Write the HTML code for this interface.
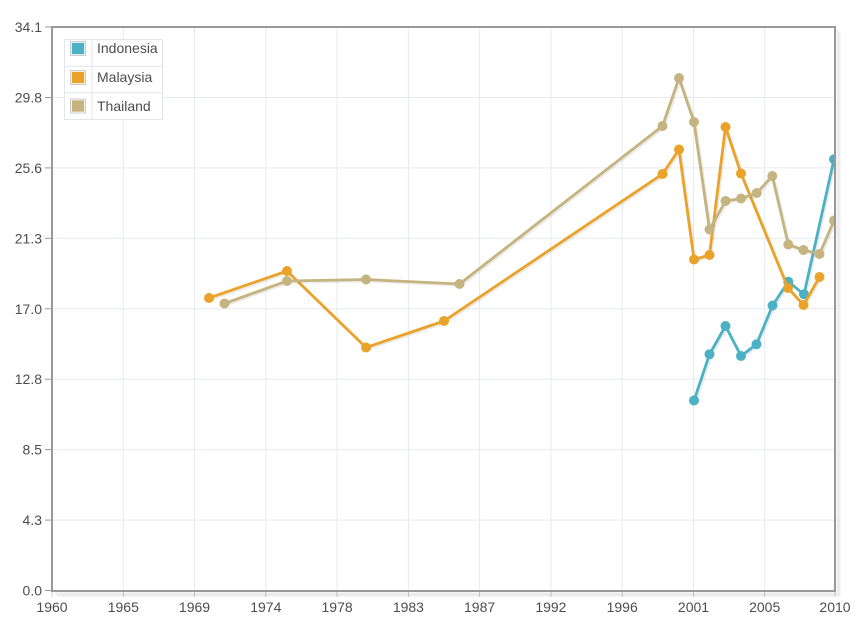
<!DOCTYPE html>
<html><head><meta charset="utf-8"><style>
html,body{margin:0;padding:0;background:#fff;}
svg{display:block;}
text{font-family:"Liberation Sans",sans-serif;font-size:14px;fill:#4d4d4d;}
</style></head><body>
<svg width="857" height="621" viewBox="0 0 857 621" xmlns="http://www.w3.org/2000/svg">
<rect x="0" y="0" width="857" height="621" fill="#fff"/>
<!-- grid -->
<g stroke="#e6eaf0" stroke-width="1">
<line x1="123.3" y1="27" x2="123.3" y2="591"/>
<line x1="194.5" y1="27" x2="194.5" y2="591"/>
<line x1="265.8" y1="27" x2="265.8" y2="591"/>
<line x1="337.1" y1="27" x2="337.1" y2="591"/>
<line x1="408.4" y1="27" x2="408.4" y2="591"/>
<line x1="479.6" y1="27" x2="479.6" y2="591"/>
<line x1="550.9" y1="27" x2="550.9" y2="591"/>
<line x1="622.2" y1="27" x2="622.2" y2="591"/>
<line x1="693.5" y1="27" x2="693.5" y2="591"/>
<line x1="764.7" y1="27" x2="764.7" y2="591"/>
<line x1="52" y1="97.5" x2="835" y2="97.5"/>
<line x1="52" y1="167.9" x2="835" y2="167.9"/>
<line x1="52" y1="238.3" x2="835" y2="238.3"/>
<line x1="52" y1="308.8" x2="835" y2="308.8"/>
<line x1="52" y1="379.2" x2="835" y2="379.2"/>
<line x1="52" y1="449.6" x2="835" y2="449.6"/>
<line x1="52" y1="520.1" x2="835" y2="520.1"/>
</g>
<!-- ticks -->
<g stroke="#999" stroke-width="1">
<line x1="45" y1="27" x2="51" y2="27"/>
<line x1="45" y1="97.5" x2="51" y2="97.5"/>
<line x1="45" y1="167.9" x2="51" y2="167.9"/>
<line x1="45" y1="238.3" x2="51" y2="238.3"/>
<line x1="45" y1="308.8" x2="51" y2="308.8"/>
<line x1="45" y1="379.2" x2="51" y2="379.2"/>
<line x1="45" y1="449.6" x2="51" y2="449.6"/>
<line x1="45" y1="520.1" x2="51" y2="520.1"/>
<line x1="45" y1="590.5" x2="51" y2="590.5"/>
</g>
<g stroke="#ccc" stroke-width="1">
<line x1="52" y1="592" x2="52" y2="597"/>
<line x1="123.3" y1="592" x2="123.3" y2="597"/>
<line x1="194.5" y1="592" x2="194.5" y2="597"/>
<line x1="265.8" y1="592" x2="265.8" y2="597"/>
<line x1="337.1" y1="592" x2="337.1" y2="597"/>
<line x1="408.4" y1="592" x2="408.4" y2="597"/>
<line x1="479.6" y1="592" x2="479.6" y2="597"/>
<line x1="550.9" y1="592" x2="550.9" y2="597"/>
<line x1="622.2" y1="592" x2="622.2" y2="597"/>
<line x1="693.5" y1="592" x2="693.5" y2="597"/>
<line x1="764.7" y1="592" x2="764.7" y2="597"/>
<line x1="835" y1="592" x2="835" y2="597"/>
</g>
<!-- y labels -->
<g text-anchor="end">
<text x="42" y="32">34.1</text>
<text x="42" y="102.5">29.8</text>
<text x="42" y="173">25.6</text>
<text x="42" y="243.3">21.3</text>
<text x="42" y="313.8">17.0</text>
<text x="42" y="384.2">12.8</text>
<text x="42" y="454.6">8.5</text>
<text x="42" y="525.1">4.3</text>
<text x="42" y="595.5">0.0</text>
</g>
<!-- x labels -->
<g text-anchor="middle">
<text x="52" y="612">1960</text>
<text x="123.3" y="612">1965</text>
<text x="194.5" y="612">1969</text>
<text x="265.8" y="612">1974</text>
<text x="337.1" y="612">1978</text>
<text x="408.4" y="612">1983</text>
<text x="479.6" y="612">1987</text>
<text x="550.9" y="612">1992</text>
<text x="622.2" y="612">1996</text>
<text x="693.5" y="612">2001</text>
<text x="764.7" y="612">2005</text>
<text x="835" y="612">2010</text>
</g>
<!-- border shadow -->
<g stroke="#000" fill="none" stroke-opacity="0.07" stroke-width="2">
<polyline points="837.5,30 837.5,593.5 55,593.5"/>
<polyline points="839.5,32 839.5,595.5 57,595.5"/>
</g>
<!-- series -->
<defs>
<clipPath id="c"><rect x="52" y="20" width="783" height="571"/></clipPath>
</defs>
<g clip-path="url(#c)" fill="none" stroke-width="2.8" stroke-linejoin="round" stroke-linecap="round">
<!-- Indonesia -->
<g transform="translate(1.5,1.5)" stroke="#000" stroke-opacity="0.08">
<polyline points="694,400.5 709.5,354.3 725.5,326 741,356 756.5,344.3 772.5,305.5 788.3,281.7 804,294.3 834,159.3"/>
</g>
<polyline stroke="#4bb2c5" points="694,400.5 709.5,354.3 725.5,326 741,356 756.5,344.3 772.5,305.5 788.3,281.7 804,294.3 834,159.3"/>
<g fill="#4bb2c5" stroke="none">
<circle cx="694" cy="400.5" r="5"/><circle cx="709.5" cy="354.3" r="5"/><circle cx="725.5" cy="326" r="5"/><circle cx="741" cy="356" r="5"/><circle cx="756.5" cy="344.3" r="5"/><circle cx="772.5" cy="305.5" r="5"/><circle cx="788.3" cy="281.7" r="5"/><circle cx="804" cy="294.3" r="5"/><circle cx="834" cy="159.3" r="5"/>
</g>
<!-- Malaysia -->
<g transform="translate(1.5,1.5)" stroke="#000" stroke-opacity="0.08">
<polyline points="209,298 287,271 366,347.5 444,321 662.5,174 679,149.5 694,259.5 709.5,255 725.5,127 741,173.5 788,288 803.5,305 819.5,277"/>
</g>
<polyline stroke="#eaa228" points="209,298 287,271 366,347.5 444,321 662.5,174 679,149.5 694,259.5 709.5,255 725.5,127 741,173.5 788,288 803.5,305 819.5,277"/>
<g fill="#eaa228" stroke="none">
<circle cx="209" cy="298" r="5"/><circle cx="287" cy="271" r="5"/><circle cx="366" cy="347.5" r="5"/><circle cx="444" cy="321" r="5"/><circle cx="662.5" cy="174" r="5"/><circle cx="679" cy="149.5" r="5"/><circle cx="694" cy="259.5" r="5"/><circle cx="709.5" cy="255" r="5"/><circle cx="725.5" cy="127" r="5"/><circle cx="741" cy="173.5" r="5"/><circle cx="788" cy="288" r="5"/><circle cx="803.5" cy="305" r="5"/><circle cx="819.5" cy="277" r="5"/>
</g>
<!-- Thailand -->
<g transform="translate(1.5,1.5)" stroke="#000" stroke-opacity="0.08">
<polyline points="224.5,303.5 287,281 366,279.5 459.5,284 662.5,126 679,78 694,122 709.5,229.5 725.5,201 741,198.5 756.7,193 772.3,176 788.3,244.5 803.5,250 819.5,254 834,220.5"/>
</g>
<polyline stroke="#c5b47f" points="224.5,303.5 287,281 366,279.5 459.5,284 662.5,126 679,78 694,122 709.5,229.5 725.5,201 741,198.5 756.7,193 772.3,176 788.3,244.5 803.5,250 819.5,254 834,220.5"/>
<g fill="#c5b47f" stroke="none">
<circle cx="224.5" cy="303.5" r="5"/><circle cx="287" cy="281" r="5"/><circle cx="366" cy="279.5" r="5"/><circle cx="459.5" cy="284" r="5"/><circle cx="662.5" cy="126" r="5"/><circle cx="679" cy="78" r="5"/><circle cx="694" cy="122" r="5"/><circle cx="709.5" cy="229.5" r="5"/><circle cx="725.5" cy="201" r="5"/><circle cx="741" cy="198.5" r="5"/><circle cx="756.7" cy="193" r="5"/><circle cx="772.3" cy="176" r="5"/><circle cx="788.3" cy="244.5" r="5"/><circle cx="803.5" cy="250" r="5"/><circle cx="819.5" cy="254" r="5"/><circle cx="834" cy="220.5" r="5"/>
</g>
</g>
<!-- border -->
<rect x="52" y="27" width="783" height="564" fill="none" stroke="#999" stroke-width="2"/>
<!-- legend -->
<g>
<rect x="64.5" y="39.5" width="98" height="80" fill="#fff" stroke="#e2e6ea" stroke-width="1"/>
<line x1="92" y1="39.5" x2="92" y2="119.5" stroke="#e2e6ea"/>
<line x1="64.5" y1="66.2" x2="162.5" y2="66.2" stroke="#e2e6ea"/>
<line x1="64.5" y1="92.8" x2="162.5" y2="92.8" stroke="#e2e6ea"/>
<rect x="70.5" y="41.5" width="15" height="14" fill="#fff" stroke="#ccc" stroke-width="1"/>
<rect x="71.8" y="42.8" width="12.4" height="11.4" fill="#4bb2c5"/>
<rect x="70.5" y="70.5" width="15" height="14" fill="#fff" stroke="#ccc" stroke-width="1"/>
<rect x="71.8" y="71.8" width="12.4" height="11.4" fill="#eaa228"/>
<rect x="70.5" y="99" width="15" height="14" fill="#fff" stroke="#ccc" stroke-width="1"/>
<rect x="71.8" y="100.3" width="12.4" height="11.4" fill="#c5b47f"/>
<text x="97" y="53">Indonesia</text>
<text x="97" y="82">Malaysia</text>
<text x="97" y="111">Thailand</text>
</g>
</svg>
</body></html>
